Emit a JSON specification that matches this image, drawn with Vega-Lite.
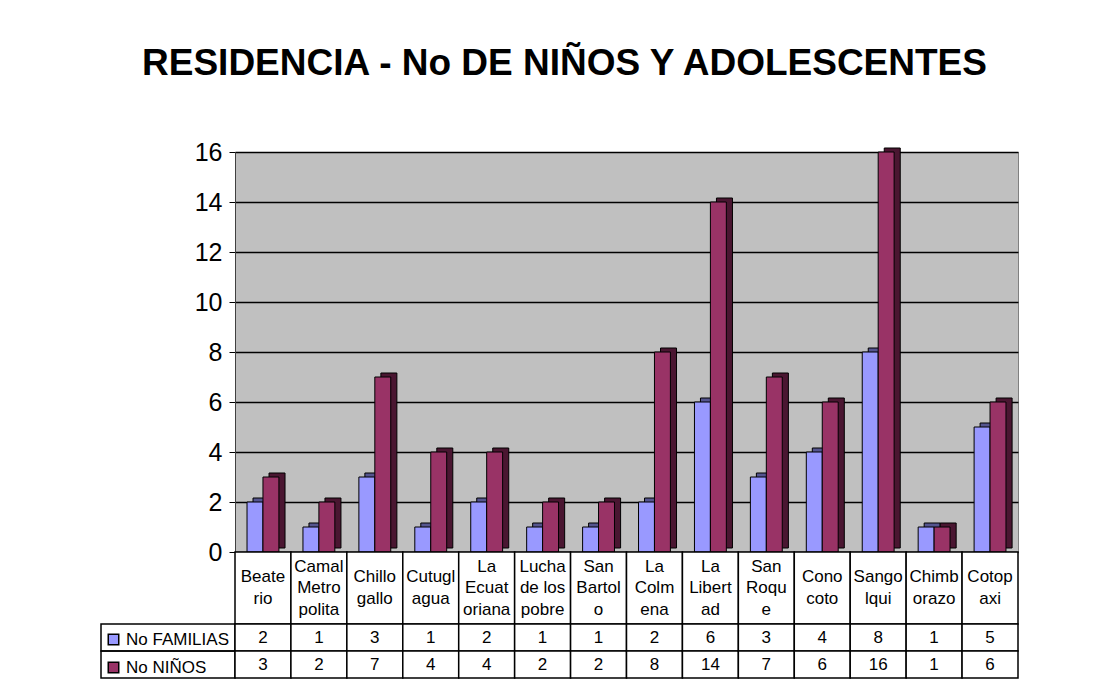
{
  "$schema": "https://vega.github.io/schema/vega-lite/v6.json",
  "background": "white",
  "padding": {"left": 100, "top": 44, "right": 5, "bottom": 5},
  "title": {"text": "RESIDENCIA - No DE NIÑOS Y ADOLESCENTES", "fontSize": 37, "font": "Liberation Sans", "fontWeight": "bold", "anchor": "middle", "offset": 57, "dx": 5, "color": "black"},
  "config": {"font": "Liberation Sans", "view": {"stroke": null}},
  "bounds": "flush",
  "align": "each",
  "spacing": 0,
  "columns": 2,
  "resolve": {"scale": {"color": "independent"}},
  "data": {"values": [
    {"cat": "Beaterio", "label": "Beate\nrio", "serie": "No FAMILIAS", "value": 2},
    {"cat": "Beaterio", "label": "Beate\nrio", "serie": "No NIÑOS", "value": 3},
    {"cat": "Camal Metropolitano", "label": "Camal\nMetro\npolita", "serie": "No FAMILIAS", "value": 1},
    {"cat": "Camal Metropolitano", "label": "Camal\nMetro\npolita", "serie": "No NIÑOS", "value": 2},
    {"cat": "Chillogallo", "label": "Chillo\ngallo", "serie": "No FAMILIAS", "value": 3},
    {"cat": "Chillogallo", "label": "Chillo\ngallo", "serie": "No NIÑOS", "value": 7},
    {"cat": "Cutuglagua", "label": "Cutugl\nagua", "serie": "No FAMILIAS", "value": 1},
    {"cat": "Cutuglagua", "label": "Cutugl\nagua", "serie": "No NIÑOS", "value": 4},
    {"cat": "La Ecuatoriana", "label": "La\nEcuat\noriana", "serie": "No FAMILIAS", "value": 2},
    {"cat": "La Ecuatoriana", "label": "La\nEcuat\noriana", "serie": "No NIÑOS", "value": 4},
    {"cat": "Lucha de los pobres", "label": "Lucha\nde los\npobre", "serie": "No FAMILIAS", "value": 1},
    {"cat": "Lucha de los pobres", "label": "Lucha\nde los\npobre", "serie": "No NIÑOS", "value": 2},
    {"cat": "San Bartolo", "label": "San\nBartol\no", "serie": "No FAMILIAS", "value": 1},
    {"cat": "San Bartolo", "label": "San\nBartol\no", "serie": "No NIÑOS", "value": 2},
    {"cat": "La Colmena", "label": "La\nColm\nena", "serie": "No FAMILIAS", "value": 2},
    {"cat": "La Colmena", "label": "La\nColm\nena", "serie": "No NIÑOS", "value": 8},
    {"cat": "La Libertad", "label": "La\nLibert\nad", "serie": "No FAMILIAS", "value": 6},
    {"cat": "La Libertad", "label": "La\nLibert\nad", "serie": "No NIÑOS", "value": 14},
    {"cat": "San Roque", "label": "San\nRoqu\ne", "serie": "No FAMILIAS", "value": 3},
    {"cat": "San Roque", "label": "San\nRoqu\ne", "serie": "No NIÑOS", "value": 7},
    {"cat": "Conocoto", "label": "Cono\ncoto", "serie": "No FAMILIAS", "value": 4},
    {"cat": "Conocoto", "label": "Cono\ncoto", "serie": "No NIÑOS", "value": 6},
    {"cat": "Sangolqui", "label": "Sango\nlqui", "serie": "No FAMILIAS", "value": 8},
    {"cat": "Sangolqui", "label": "Sango\nlqui", "serie": "No NIÑOS", "value": 16},
    {"cat": "Chimborazo", "label": "Chimb\norazo", "serie": "No FAMILIAS", "value": 1},
    {"cat": "Chimborazo", "label": "Chimb\norazo", "serie": "No NIÑOS", "value": 1},
    {"cat": "Cotopaxi", "label": "Cotop\naxi", "serie": "No FAMILIAS", "value": 5},
    {"cat": "Cotopaxi", "label": "Cotop\naxi", "serie": "No NIÑOS", "value": 6}
  ]},
  "concat": [
    {"width": 134, "height": 400, "data": {"values": []}, "mark": {"type": "text"}, "encoding": {}},
    {
      "width": 783, "height": 400,
      "view": {"fill": "#C0C0C0", "stroke": "#808080"},
      "encoding": {
        "x": {"field": "cat", "type": "nominal", "sort": null, "axis": null, "scale": {"paddingInner": 0.43, "paddingOuter": 0.215}},
        "y": {"field": "value", "type": "quantitative", "scale": {"domain": [0, 16]},
              "axis": {"title": null, "values": [0, 2, 4, 6, 8, 10, 12, 14, 16], "grid": true, "gridColor": "black", "gridWidth": 1.5, "gridOpacity": 1,
                       "labelFontSize": 25, "labelColor": "black", "labelPadding": 7, "tickColor": "black", "tickSize": 6, "domainColor": "#404040", "labelFont": "Liberation Sans"}}
      },
      "resolve": {"scale": {"xOffset": "independent"}},
      "layer": [
        {
          "mark": {"type": "bar", "yOffset": -4, "stroke": "black", "strokeWidth": 1},
          "encoding": {
            "xOffset": {"field": "serie", "type": "nominal", "sort": null, "scale": {"domain": ["No FAMILIAS", "No NIÑOS"], "range": [6, 38]}},
            "fill": {"condition": {"test": "datum.serie === 'No FAMILIAS'", "value": "#55558f"}, "value": "#4a1631"}
          }
        },
        {
          "mark": {"type": "bar", "stroke": "black", "strokeWidth": 1},
          "encoding": {
            "xOffset": {"field": "serie", "type": "nominal", "sort": null, "scale": {"domain": ["No FAMILIAS", "No NIÑOS"]}},
            "color": {"field": "serie", "type": "nominal", "sort": null,
                      "scale": {"domain": ["No FAMILIAS", "No NIÑOS"], "range": ["#9999FF", "#993366"]},
                      "legend": {"title": null, "orient": "none", "legendX": -130, "legendY": 479, "symbolType": "square", "symbolSize": 110,
                                 "symbolStrokeColor": "black", "symbolStrokeWidth": 1.5, "symbolOpacity": 1, "labelFontSize": 17, "labelColor": "black",
                                 "rowPadding": 10, "labelOffset": 4, "padding": 0, "labelFont": "Liberation Sans"}}
          }
        }
      ]
    },
    {"width": 134, "height": 72, "data": {"values": []}, "mark": {"type": "text"}, "encoding": {}},
    {
      "width": 783, "height": 72,
      "transform": [{"filter": "datum.serie === 'No FAMILIAS'"}],
      "encoding": {"x": {"field": "cat", "type": "nominal", "sort": null, "axis": null, "scale": {"paddingInner": 0, "paddingOuter": 0}}},
      "layer": [
        {"mark": {"type": "rect", "fill": "white", "stroke": "black", "strokeWidth": 1.5}},
        {"mark": {"type": "text", "fontSize": 17, "lineBreak": "\n", "lineHeight": 21.5, "color": "black", "font": "Liberation Sans", "baseline": "middle",
                  "dy": {"expr": "-(length(split(datum.label, '\\n')) - 1) * 10.75"}},
         "encoding": {"text": {"field": "label"}}}
      ]
    },
    {
      "width": 134, "height": 54,
      "transform": [{"filter": "datum.cat === 'Beaterio'"}],
      "encoding": {"y": {"field": "serie", "type": "nominal", "sort": null, "axis": null, "scale": {"paddingInner": 0, "paddingOuter": 0}}},
      "mark": {"type": "rect", "fill": "transparent", "stroke": "black", "strokeWidth": 1.5}
    },
    {
      "width": 783, "height": 54,
      "encoding": {
        "x": {"field": "cat", "type": "nominal", "sort": null, "axis": null, "scale": {"paddingInner": 0, "paddingOuter": 0}},
        "y": {"field": "serie", "type": "nominal", "sort": null, "axis": null, "scale": {"paddingInner": 0, "paddingOuter": 0}}
      },
      "layer": [
        {"mark": {"type": "rect", "fill": "white", "stroke": "black", "strokeWidth": 1.5}},
        {"mark": {"type": "text", "fontSize": 17, "color": "black", "font": "Liberation Sans"}, "encoding": {"text": {"field": "value", "type": "quantitative"}}}
      ]
    }
  ]
}
